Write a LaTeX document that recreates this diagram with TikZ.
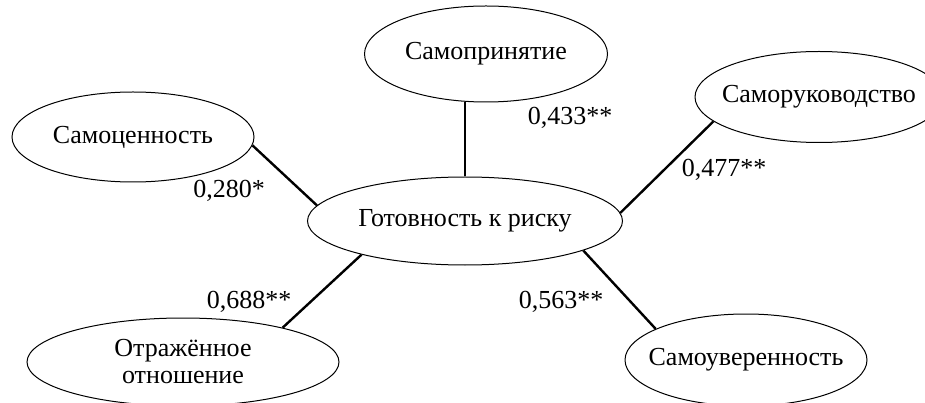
\documentclass[tikz,border=0pt]{standalone}
\usepackage{fontspec}
\setmainfont{Liberation Serif}
\usetikzlibrary{shapes.geometric}
\tikzset{
  oval/.style={ellipse, draw, line width=1pt, inner sep=0pt, align=center,
    font=\fontsize{26}{27}\selectfont},
  link/.style={line width=2.4pt},
  coef/.style={font=\fontsize{26}{27}\selectfont, inner sep=0pt}
}
\begin{document}
\begin{tikzpicture}[x=1pt,y=-1pt]
\useasboundingbox (0,0) rectangle (925,403);
\clip (0,0) rectangle (925,403);
\node[oval, minimum width=315pt, minimum height=88pt] (cen) at (465,221) {\makebox[0pt]{Готовность к риску}};
\node[oval, minimum width=242pt, minimum height=90pt] (sc) at (133,137) {\makebox[0pt]{Самоценность}};
\node[oval, minimum width=243pt, minimum height=96pt] (sp) at (486,54) {\makebox[0pt]{Самопринятие}};
\node[oval, minimum width=248pt, minimum height=91pt] (sr) at (819,97) {\makebox[0pt]{Саморуководство}};
\node[oval, minimum width=242pt, minimum height=92pt] (su) at (746,360) {\makebox[0pt]{Самоуверенность}};
\node[oval, minimum width=312pt, minimum height=88pt] (ot) at (183,362) {Отражённое\\отношение};
\draw[link] (sc.-4) -- (cen.174.7);
\draw[link] (cen.north) -- (cen.north |- sp.south);
\draw[link] (sr.193) -- (cen.3);
\draw[link] (cen.-14.3) -- (su.161.6);
\draw[link] (cen.-162) -- (ot.19.6);
\node[coef] (k1) at (229,191) {0,280*};
\node[coef] (k2) at (570,118) {0,433**};
\node[coef] (k3) at (724,170) {0,477**};
\node[coef] (k4) at (249,302) {0,688**};
\node[coef] (k5) at (561,302) {0,563**};
\end{tikzpicture}
\end{document}
